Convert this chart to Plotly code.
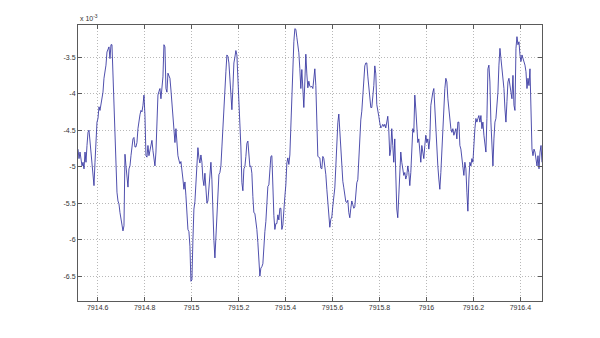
import numpy as np
import plotly.graph_objects as go

# Signal samples, in units of 1e-3, recorded in three consecutive blocks
block1 = [
    -4.76, -4.89, -4.80, -4.89, -4.99, -4.94, -5.03, -4.80, -4.94, -4.71,
    -4.53, -4.50, -4.67, -4.87, -4.99, -5.10, -5.26, -4.94, -4.62, -4.39,
    -4.34, -4.18, -4.23, -4.14, -4.07, -3.98, -3.79, -3.70, -3.61, -3.43,
    -3.40, -3.36, -3.52, -3.33, -3.33, -3.75, -4.25, -4.71, -5.08, -5.35,
    -5.47, -5.51, -5.63, -5.74, -5.77, -5.88, -5.81, -4.83, -4.99, -5.22,
    -5.28, -5.03, -4.99, -4.85, -4.71, -4.62, -4.60, -4.73, -4.73, -4.67,
    -4.48, -4.34, -4.29, -4.23, -4.25, -4.16, -4.02, -4.30, -4.85, -4.87,
    -4.71, -4.85, -4.78, -4.66, -4.64, -4.78, -4.94, -4.99, -4.80, -4.25,
    -4.02, -3.97, -3.93, -4.07, -3.95, -3.77, -3.33, -3.36, -3.93, -3.98,
    -3.72, -3.75, -3.79, -3.95, -4.14, -4.32, -4.53, -4.67, -4.48, -4.72,
    -4.85, -4.91, -4.96, -4.93, -5.02, -5.17, -5.31, -5.21, -5.40, -5.67,
    -5.86, -5.89, -6.09, -6.57, -6.55, -6.00, -5.58, -5.48, -5.22, -4.89,
    -4.74, -4.88, -4.95, -4.84, -4.94, -5.17, -5.26, -5.09, -5.34, -5.50,
    -5.47, -5.26, -5.03, -4.94, -5.18, -5.67, -6.01, -6.25, -5.95, -5.57,
    -5.28, -5.11, -5.08, -4.99, -4.73, -4.42, -4.16, -3.99, -3.70, -3.47,
    -3.49, -3.58, -3.80, -4.10, -4.22, -3.92, -3.58, -3.50,
]
block2 = [
    -3.41, -3.47, -3.77, -4.21, -4.38, -4.73, -5.22, -5.33, -5.03, -5.00,
    -4.86, -4.68, -4.65, -4.79, -5.00, -4.99, -5.09, -5.41, -5.63, -5.64,
    -5.72, -5.86, -6.04, -6.33, -6.50, -6.39, -6.37, -6.33, -6.05, -5.89,
    -5.75, -5.45, -5.27, -5.25, -5.09, -4.86, -4.85, -5.32, -5.67, -5.86,
    -5.78, -5.78, -5.66, -5.73, -5.57, -5.57, -5.86, -5.80, -5.54, -5.41,
    -5.25, -4.95, -4.88, -4.97, -4.84, -4.42, -3.98, -3.60, -3.29, -3.11,
    -3.12, -3.23, -3.35, -3.44, -3.66, -3.93, -3.67, -4.07, -4.19, -3.84,
    -3.46, -3.73, -3.92, -3.83, -3.90, -3.91, -3.90, -3.93, -3.75, -3.66,
    -3.89, -4.39, -4.86, -4.87, -4.88, -5.02, -5.03, -4.86, -4.89, -5.00,
    -5.11, -5.31, -5.48, -5.72, -5.83, -5.72, -5.69, -5.54, -5.43, -5.29,
    -5.00, -4.61, -4.40, -4.28, -4.50, -4.88, -5.08, -5.20, -5.29, -5.39,
    -5.48, -5.49, -5.46, -5.63, -5.70, -5.57, -5.47, -5.52, -5.57, -5.55,
    -5.32, -5.22, -5.18, -4.82, -4.51, -4.36, -4.24, -4.01, -3.75, -3.62,
    -3.58, -3.58, -3.76, -3.91, -4.02, -4.19, -4.19, -4.04, -3.89, -3.62,
    -3.73, -4.15, -4.27, -4.31, -4.40, -4.47, -4.45, -4.42, -4.45, -4.42,
    -4.47, -4.40, -4.31, -4.50, -4.85, -4.76,
]
block3 = [
    -4.48, -4.71, -4.94, -4.62, -5.22, -5.58, -5.70, -5.45, -5.08, -4.80,
    -4.94, -5.03, -5.12, -5.08, -5.17, -5.12, -4.99, -5.08, -5.26, -5.08,
    -4.62, -4.48, -4.53, -4.02, -4.21, -4.53, -4.67, -4.62, -4.76, -4.94,
    -4.71, -4.80, -4.89, -4.71, -4.57, -4.67, -4.62, -4.76, -4.62, -4.16,
    -4.02, -3.98, -3.93, -4.21, -4.53, -4.85, -4.99, -5.17, -5.31, -5.08,
    -4.76, -4.53, -4.21, -3.93, -3.79, -3.84, -4.07, -4.25, -4.39, -4.48,
    -4.53, -4.48, -4.57, -4.53, -4.48, -4.62, -4.39, -4.39, -4.71, -4.76,
    -4.89, -5.03, -5.12, -4.94, -5.03, -5.35, -5.61, -5.17, -4.94, -4.99,
    -4.89, -4.94, -4.62, -4.48, -4.34, -4.39, -4.34, -4.30, -4.39, -4.30,
    -4.48, -4.39, -4.57, -4.71, -4.80, -4.34, -3.66, -3.61, -3.84, -4.39,
    -4.76, -4.99, -4.62, -4.39, -4.34, -4.16, -3.98, -3.61, -3.38, -3.52,
    -3.66, -3.70, -3.93, -4.21, -4.39, -4.11, -3.84, -3.79, -3.93, -3.98,
    -4.07, -3.75, -4.16, -4.23, -3.38, -3.22, -3.33, -3.29, -3.47, -3.56,
    -3.47, -3.52, -3.56, -3.61, -3.70, -3.93, -3.79, -3.89, -3.66, -4.16,
    -4.76, -4.85, -4.76, -4.80, -4.89, -4.99, -4.85, -5.03, -4.80, -4.71,
    -4.94,
]
# Start and end time of each block
block_spans = [(7914.5162, 7915.1843), (7915.1885, 7915.8481), (7915.8523, 7916.4920)]

x_ticks = [7914.6, 7914.8, 7915.0, 7915.2, 7915.4, 7915.6, 7915.8, 7916.0, 7916.2, 7916.4]
x_tick_text = ["7914.6", "7914.8", "7915", "7915.2", "7915.4", "7915.6", "7915.8", "7916", "7916.2", "7916.4"]
y_ticks = [-6.5, -6.0, -5.5, -5.0, -4.5, -4.0, -3.5]
y_tick_text = ["-6.5", "-6", "-5.5", "-5", "-4.5", "-4", "-3.5"]
x_range = [7914.5162, 7916.4920]
y_range = [-6.84, -3.06]

times, values = [], []
for (t0, t1), block in zip(block_spans, [block1, block2, block3]):
    times.extend(np.linspace(t0, t1, len(block)))
    values.extend(block)

fig = go.Figure()
fig.add_trace(go.Scatter(
    x=times, y=values, mode="lines",
    line=dict(color="#30309e", width=0.85),
    hoverinfo="skip", showlegend=False,
))

axis_style = dict(
    showline=True, linecolor="#5a5a5a", linewidth=1, mirror="ticks",
    ticks="inside", ticklen=4, tickcolor="#5a5a5a", tickwidth=1,
    showgrid=True, gridcolor="#b8b8b8", gridwidth=1, griddash="1px,2px",
    zeroline=False,
    tickfont=dict(family="Liberation Sans, Arial, sans-serif", size=7, color="#333333"),
)

fig.update_xaxes(range=x_range, tickvals=x_ticks, ticktext=x_tick_text, **axis_style)
fig.update_yaxes(range=y_range, tickvals=y_ticks, ticktext=y_tick_text, **axis_style)

fig.add_annotation(
    xref="paper", yref="paper", x=0, y=1, xanchor="left", yanchor="bottom",
    yshift=1, text="x 10<sup>-3</sup>", showarrow=False,
    font=dict(family="Liberation Sans, Arial, sans-serif", size=7, color="#333333"),
)

fig.update_layout(
    width=600, height=338,
    margin=dict(l=78, r=58, t=25, b=37),
    paper_bgcolor="white", plot_bgcolor="white",
)

fig.write_html("out.html")
